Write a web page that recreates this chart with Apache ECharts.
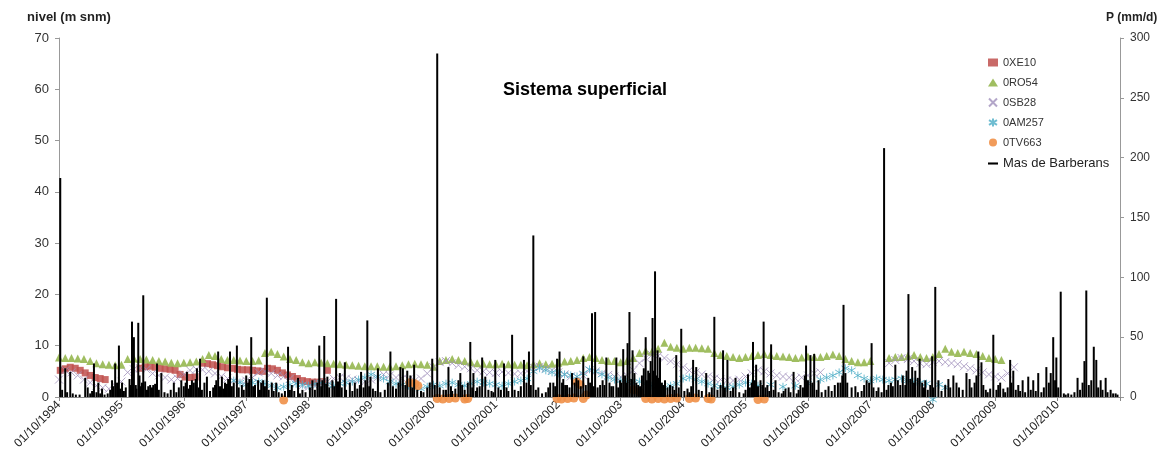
<!DOCTYPE html>
<html>
<head>
<meta charset="utf-8">
<script src="https://cdn.jsdelivr.net/npm/echarts@6/dist/echarts.min.js"></script>
<style>
  html, body { margin: 0; padding: 0; background: #fff; }
  #chart { width: 1162px; height: 461px; }
</style>
</head>
<body>
<div id="chart"></div>
<script>
// x = years since 01/10/1994
var yearLabels = ['1994', '1995', '1996', '1997', '1998', '1999', '2000', '2001', '2002',
  '2003', '2004', '2005', '2006', '2007', '2008', '2009', '2010', ''];

var xe10 = [[0.02,5.2],[0.1,5.5],[0.18,5.8],[0.26,5.6],[0.34,5.2],[0.42,4.7],[0.5,4.2],[0.58,3.8],[0.66,3.6],[0.74,3.4],
  [1.3,5.6],[1.38,5.9],[1.46,6.0],[1.54,5.8],[1.62,5.6],[1.7,5.5],[1.78,5.4],[1.86,5.2],[1.94,4.4],[2.02,3.9],[2.1,3.8],[2.18,3.9],
  [2.3,6.6],[2.38,6.5],[2.46,6.3],[2.54,6.1],[2.62,5.9],[2.7,5.7],[2.78,5.6],[2.86,5.4],[2.94,5.3],[3.02,5.3],[3.1,5.2],[3.18,5.1],
  [3.26,5.0],[3.34,5.6],[3.42,5.5],[3.5,5.2],[3.58,4.7],[3.66,4.3],[3.74,4.0],[3.82,3.6],[3.9,3.2],[3.98,3.0],[4.06,2.9],[4.14,2.9],
  [4.22,3.0],[4.3,5.2]];

var ro54 = [[0.0,7.7],[0.1,7.6],[0.2,7.6],[0.3,7.5],[0.4,7.4],[0.5,7.0],[0.6,6.6],[0.7,6.4],[0.8,6.3],[0.9,6.2],[1.0,6.3],
  [1.1,7.4],[1.2,7.5],[1.3,7.4],[1.4,7.3],[1.5,7.2],[1.6,7.0],[1.7,6.9],[1.8,6.7],[1.9,6.6],[2.0,6.7],[2.1,6.8],[2.2,6.9],
  [2.3,7.4],[2.4,8.2],[2.5,8.0],[2.6,7.4],[2.7,7.2],[2.8,7.2],[2.9,7.1],[3.0,7.0],[3.1,7.0],[3.2,7.1],[3.3,8.6],[3.4,8.8],
  [3.5,8.4],[3.6,7.9],[3.7,7.4],[3.8,7.2],[3.9,6.8],[4.0,6.6],[4.1,6.8],[4.2,6.7],[4.3,6.6],[4.4,6.5],[4.5,6.4],[4.6,6.3],
  [4.7,6.2],[4.8,6.1],[4.9,6.0],[5.0,6.0],[5.1,6.0],[5.2,5.9],[5.3,5.9],[5.4,6.0],[5.5,6.2],[5.6,6.4],[5.7,6.5],[5.8,6.4],
  [5.9,6.3],[6.0,5.9],[6.1,7.0],[6.2,7.2],[6.3,7.4],[6.4,7.2],[6.5,7.0],[6.6,6.8],[6.7,6.6],[6.8,6.5],[6.9,6.4],[7.0,6.4],
  [7.1,6.5],[7.2,6.4],[7.3,6.3],[7.4,6.3],[7.5,6.2],[7.6,6.4],[7.7,6.6],[7.8,6.4],[7.9,6.5],[8.0,6.7],[8.1,6.9],[8.2,7.0],
  [8.3,7.2],[8.4,7.6],[8.5,7.8],[8.6,7.6],[8.7,7.2],[8.8,7.0],[8.9,7.0],[9.0,6.8],[9.1,7.0],[9.2,7.6],[9.3,8.6],[9.4,9.0],
  [9.5,8.8],[9.6,9.4],[9.7,10.6],[9.8,9.8],[9.9,9.6],[10.0,9.4],[10.1,9.6],[10.2,9.6],[10.3,9.5],[10.4,9.4],[10.5,8.6],
  [10.6,8.2],[10.7,8.0],[10.8,7.8],[10.9,7.6],[11.0,7.8],[11.1,8.0],[11.2,8.2],[11.3,8.4],[11.4,8.2],[11.5,8.0],[11.6,7.9],
  [11.7,7.8],[11.8,7.6],[11.9,7.7],[12.0,7.9],[12.1,7.8],[12.2,7.8],[12.3,8.0],[12.4,8.3],[12.5,8.0],[12.6,7.4],[12.7,7.0],
  [12.8,6.8],[12.9,6.8],[13.0,7.0],[13.3,7.6],[13.4,7.8],[13.5,7.8],[13.6,8.0],[13.7,8.2],[13.8,7.8],[13.9,7.6],[14.0,7.8],
  [14.1,8.4],[14.2,9.4],[14.3,8.8],[14.4,8.6],[14.5,8.8],[14.6,8.6],[14.7,8.4],[14.8,8.0],[14.9,7.6],[15.0,7.4],[15.1,7.2]];

var sb28 = [[0.0,3.4],[0.1,5.2],[0.2,4.8],[0.3,4.2],[0.4,3.4],[0.5,2.8],[0.6,2.2],[0.7,1.8],[0.8,1.6],[0.9,2.2],[1.0,3.0],
  [1.1,4.8],[1.2,5.4],[1.3,5.6],[1.4,5.4],[1.5,4.6],[1.6,4.2],[1.7,3.8],[1.8,3.4],[1.9,3.6],[2.0,4.4],[2.1,5.2],[2.2,5.4],
  [2.3,5.3],[2.4,5.0],[2.5,4.6],[2.6,4.0],[2.7,3.6],[2.8,3.2],[2.9,3.0],[3.0,3.2],[3.1,3.8],[3.2,4.8],[3.3,5.0],[3.4,4.6],
  [3.5,4.2],[3.6,4.0],[3.7,3.6],[3.8,2.7],[3.9,2.2],[4.0,2.0],[4.1,2.2],[4.2,2.6],[4.3,3.0],[4.4,3.6],[4.5,3.8],[4.6,3.6],
  [4.7,3.4],[4.8,3.2],[4.9,3.0],[5.0,3.4],[5.1,3.8],[5.2,4.4],[5.3,4.2],[5.4,3.8],[5.5,3.6],[5.6,3.4],[5.7,3.2],[5.8,3.6],
  [5.9,4.6],[6.0,5.8],[6.1,6.8],[6.2,7.0],[6.3,6.6],[6.4,6.2],[6.5,5.9],[6.6,5.6],[6.7,5.2],[6.8,5.0],[6.9,4.8],[7.0,4.7],
  [7.1,4.9],[7.2,4.7],[7.3,4.5],[7.4,4.6],[7.5,5.0],[7.6,5.8],[7.7,5.9],[7.8,5.6],[7.9,5.2],[8.0,4.8],[8.1,4.4],[8.2,4.0],
  [8.3,3.9],[8.4,4.2],[8.5,5.2],[8.6,5.0],[8.7,4.6],[8.8,4.3],[8.9,4.0],[9.0,3.9],[9.1,4.2],[9.2,5.2],[9.3,6.6],[9.4,7.6],
  [9.5,8.2],[9.6,8.0],[9.7,7.6],[9.8,7.0],[9.9,6.4],[10.0,5.8],[10.1,5.2],[10.2,4.8],[10.3,4.4],[10.4,4.0],[10.5,3.6],
  [10.6,3.4],[10.7,3.2],[10.8,3.2],[10.9,3.4],[11.0,4.0],[11.1,4.6],[11.2,5.2],[11.3,5.0],[11.4,4.6],[11.5,4.2],[11.6,4.0],
  [11.7,3.8],[11.8,3.6],[11.9,3.8],[12.0,4.2],[12.1,4.6],[12.2,4.8],[13.3,6.6],[13.4,7.2],[13.5,7.6],[13.6,7.4],[13.7,7.0],
  [13.8,6.6],[13.9,6.4],[14.0,6.8],[14.1,7.0],[14.2,6.8],[14.3,6.6],[14.4,6.4],[14.5,6.0],[14.6,5.6],[14.7,5.2],[14.8,4.8],
  [14.9,4.4],[15.0,4.0],[15.1,3.8],[15.2,4.6],[15.3,5.8]];

var am257 = [[2.8,3.2],[2.9,2.8],[3.0,2.4],[3.1,2.8],[3.2,3.0],[3.3,2.6],[3.4,2.2],[3.5,1.8],[3.6,2.0],[3.7,2.4],[3.8,2.6],
  [3.9,2.4],[4.0,2.2],[4.1,2.6],[4.2,2.8],[4.3,2.4],[4.4,2.2],[4.5,2.6],[4.6,2.8],[4.7,3.0],[4.8,3.4],[4.9,3.8],[5.0,4.4],
  [5.1,4.0],[5.2,3.6],[5.3,3.0],[5.4,2.6],[5.5,2.4],[5.6,2.2],[5.7,1.8],[5.8,1.6],[5.9,2.0],[6.0,2.4],[6.1,2.2],[6.2,2.6],
  [6.3,2.8],[6.4,2.4],[6.5,2.2],[6.6,2.6],[6.7,3.0],[6.8,2.8],[6.9,2.6],[7.0,2.4],[7.1,2.2],[7.2,2.6],[7.3,3.0],[7.4,3.2],
  [7.5,3.6],[7.6,5.0],[7.7,5.6],[7.8,5.2],[7.9,4.8],[8.0,4.6],[8.1,4.4],[8.2,4.2],[8.3,4.0],[8.4,4.6],[8.5,5.4],[8.6,5.0],
  [8.7,4.4],[8.8,3.8],[8.9,3.4],[9.0,3.2],[9.1,3.0],[9.2,2.8],[9.3,3.0],[9.4,2.6],[9.5,2.2],[9.6,2.0],[9.7,1.8],[9.8,2.2],
  [9.9,2.6],[10.0,3.6],[10.1,3.8],[10.2,3.4],[10.3,3.0],[10.4,2.6],[10.5,2.2],[10.6,2.0],[10.7,1.8],[10.8,2.0],[10.9,2.4],
  [11.0,2.8],[11.1,2.6],[11.2,2.2],[11.4,2.4],[11.6,2.0],[11.8,2.2],[12.0,2.6],[12.2,3.4],[12.3,3.8],[12.4,4.2],[12.5,4.8],
  [12.6,5.6],[12.7,5.2],[12.8,4.2],[12.9,3.6],[13.0,3.2],[13.1,3.6],[13.2,3.4],[13.3,3.2],[13.4,3.4],[13.5,3.6],[13.6,3.2],
  [13.7,3.0],[13.8,2.8],[13.9,2.6],[14.0,-0.5],[14.1,2.4],[14.2,1.8]];

var tv663 = [[3.6,-0.6],[5.62,2.8],[5.7,2.6],[5.75,2.2],[6.06,-0.3],[6.15,-0.4],[6.25,-0.3],[6.35,-0.2],[6.5,-0.4],[6.55,-0.3],
  [7.98,-0.3],[8.05,-0.4],[8.15,-0.3],[8.25,-0.2],[8.3,2.9],[8.35,2.4],[8.4,-0.3],[8.45,0.4],[9.2,1.4],[9.3,1.0],[9.4,-0.3],
  [9.5,-0.4],[9.6,-0.3],[9.7,-0.4],[9.8,-0.3],[9.9,-0.2],[10.1,-0.3],[10.2,-0.2],[10.4,-0.3],[10.45,-0.4],[11.2,-0.5],[11.3,-0.4]];

// Mas de Barberans, daily rain (mm/d): the larger events
var rainT = [0.02,0.10,0.18,0.42,0.46,0.56,0.63,0.69,0.85,0.90,0.96,1.01,1.17,1.20,1.23,1.27,1.35,1.38,1.46,1.51,1.57,1.64,
  1.84,1.96,2.05,2.13,2.21,2.26,2.37,2.55,2.61,2.66,2.74,2.85,3.00,3.08,3.19,3.27,3.33,3.41,3.48,3.67,3.73,3.83,3.90,4.06,
  4.17,4.25,4.30,4.38,4.44,4.50,4.58,4.66,4.74,4.84,4.94,4.99,5.11,5.31,5.47,5.51,5.58,5.63,5.69,5.80,5.98,6.06,6.16,6.24,
  6.30,6.40,6.43,6.59,6.64,6.70,6.78,6.83,6.93,6.99,7.04,7.13,7.26,7.36,7.45,7.53,7.60,7.68,7.87,7.92,7.98,8.02,8.11,8.22,
  8.32,8.40,8.48,8.54,8.59,8.67,8.77,8.88,8.93,8.99,9.04,9.11,9.14,9.19,9.28,9.40,9.44,9.51,9.55,9.59,9.63,9.71,9.79,9.89,
  9.97,10.07,10.16,10.21,10.37,10.50,10.64,10.71,10.84,11.04,11.12,11.17,11.24,11.29,11.35,11.41,11.48,11.64,11.69,11.77,
  11.88,11.97,12.04,12.10,12.17,12.33,12.52,12.57,12.76,12.94,13.02,13.13,13.22,13.29,13.40,13.56,13.61,13.67,13.72,13.79,
  13.88,13.99,14.04,14.09,14.25,14.33,14.54,14.59,14.73,14.78,14.92,14.97,15.08,15.13,15.24,15.29,15.37,15.44,15.53,15.61,
  15.69,15.82,15.89,15.93,15.98,16.05,16.17,16.32,16.43,16.46,16.58,16.62,16.69,16.77,16.85,16.93];
var rainP = [183,24,21,16,8,28,12,7,14,28,43,12,63,50,10,62,85,13,10,10,28,20,
  12,14,21,14,24,32,17,38,17,12,38,43,18,50,14,14,83,12,12,42,10,16,6,14,
  43,51,17,14,82,20,29,12,12,21,64,17,24,38,25,24,22,18,27,5,32,287,6,25,
  5,14,20,46,20,8,33,17,5,31,8,28,52,5,31,38,135,8,12,12,32,38,10,20,
  14,34,16,70,71,10,33,9,33,14,40,45,71,39,10,50,22,66,105,39,33,14,10,35,
  57,7,31,25,20,67,39,31,16,19,46,27,14,63,10,44,14,7,8,21,
  10,43,35,36,14,9,12,77,9,14,45,8,208,10,27,10,86,25,22,32,
  14,34,92,14,15,18,20,15,38,29,7,52,12,7,31,22,10,14,17,14,
  20,25,20,50,33,88,3,16,30,89,42,31,14,16,6,3];

// the small events crowding the base of the plot
var smallT = [0.05,0.13,0.22,0.27,0.33,0.50,0.53,0.60,0.66,0.73,0.78,0.82,0.87,0.93,0.98,1.04,1.07,1.13,1.15,1.24,1.29,1.31,
  1.33,1.41,1.43,1.49,1.54,1.60,1.69,1.74,1.79,1.88,1.92,2.00,2.03,2.08,2.10,2.16,2.19,2.24,2.29,2.33,2.42,2.47,2.50,2.52,
  2.58,2.63,2.69,2.71,2.77,2.80,2.88,2.93,2.96,3.03,3.05,3.11,3.14,3.22,3.24,3.30,3.36,3.44,3.52,3.57,3.62,3.70,3.77,3.86,
  3.95,4.02,4.10,4.14,4.20,4.22,4.28,4.33,4.41,4.47,4.53,4.60,4.70,4.78,4.82,4.88,4.91,4.97,5.03,5.07,5.15,5.22,5.27,5.35,
  5.40,5.44,5.55,5.66,5.74,5.84,5.90,5.94,6.02,6.10,6.20,6.28,6.35,6.46,6.50,6.55,6.62,6.68,6.74,6.88,6.96,7.08,7.17,7.20,
  7.30,7.40,7.49,7.56,7.64,7.74,7.80,7.84,7.95,8.06,8.08,8.14,8.18,8.26,8.29,8.36,8.44,8.51,8.57,8.63,8.71,8.74,8.82,8.85,
  8.96,9.01,9.07,9.09,9.17,9.22,9.25,9.31,9.34,9.37,9.42,9.46,9.48,9.53,9.57,9.61,9.66,9.68,9.75,9.83,9.86,9.93,10.02,10.10,
  10.13,10.25,10.30,10.42,10.46,10.55,10.60,10.67,10.76,10.80,10.90,10.97,11.00,11.07,11.10,11.15,11.20,11.27,11.32,11.38,
  11.45,11.53,11.58,11.61,11.72,11.82,11.85,11.92,11.95,12.00,12.07,12.14,12.22,12.28,12.38,12.43,12.48,12.55,12.60,12.63,
  12.70,12.80,12.86,12.90,12.98,13.05,13.10,13.18,13.26,13.33,13.36,13.44,13.48,13.52,13.58,13.64,13.70,13.76,13.83,13.86,
  13.92,13.96,14.01,14.14,14.20,14.28,14.38,14.42,14.48,14.62,14.67,14.70,14.81,14.85,14.88,15.02,15.05,15.16,15.20,15.26,
  15.33,15.40,15.48,15.57,15.65,15.74,15.78,15.86,15.96,16.01,16.10,16.13,16.22,16.27,16.36,16.40,16.50,16.54,16.65,16.72,
  16.80,16.89,16.96];
var smallP = [6,4,3,2,2,3,5,4,3,2,3,6,9,12,7,5,8,15,10,7,18,9,
  12,6,9,8,11,6,4,3,6,4,8,9,12,7,10,12,15,8,6,12,5,8,10,14,
  9,7,11,15,9,12,8,10,6,12,15,9,10,6,12,9,6,5,4,3,5,6,5,3,
  4,8,6,12,9,14,11,8,9,13,8,6,5,7,10,8,14,9,7,5,4,6,12,9,
  7,12,10,8,6,4,8,12,10,8,6,9,7,10,6,12,8,5,9,6,4,6,8,5,
  6,9,12,10,6,3,4,8,9,12,15,10,8,12,16,9,10,12,9,8,14,10,12,9,
  8,12,18,12,15,20,12,9,18,24,14,20,30,22,18,16,12,10,8,9,6,8,5,4,
  9,6,5,4,8,6,10,8,5,8,4,3,6,8,12,14,9,10,8,5,
  6,4,3,5,4,3,6,8,18,14,12,6,4,6,5,10,12,18,20,12,
  8,4,5,10,12,8,5,4,6,12,9,14,10,18,22,15,12,16,12,8,
  6,10,8,5,10,8,12,8,6,8,12,18,10,6,4,6,10,4,8,12,
  6,5,4,6,5,4,8,12,14,8,3,2,2,4,6,12,10,14,8,6,
  4,3,2];

var rain = rainT.map(function (t, i) { return [t, rainP[i]]; })
  .concat(smallT.map(function (t, i) { return [t, smallP[i]]; }));

var myChart = echarts.init(document.getElementById('chart'));

var font = 'Liberation Sans, Arial, sans-serif';

var option = {
  animation: false,
  textStyle: { fontFamily: font },
  title: {
    text: 'Sistema superficial',
    left: 498,
    top: 76,
    textStyle: { fontSize: 18, fontWeight: 'bold', color: '#000', fontFamily: font }
  },
  legend: {
    orient: 'vertical',
    left: 983,
    top: 52,
    itemGap: 9,
    itemWidth: 10,
    itemHeight: 8,
    textStyle: { fontSize: 11, color: '#333', fontFamily: font },
    data: [
      { name: '0XE10', icon: 'rect' },
      { name: '0RO54', icon: 'triangle' },
      { name: '0SB28' },
      { name: '0AM257' },
      { name: '0TV663', icon: 'circle' },
      { name: 'Mas de Barberans', icon: 'path://M0,4h12v2.5h-12z', textStyle: { fontSize: 13, color: '#222' } }
    ]
  },
  grid: { left: 59, right: 42, top: 38, bottom: 64, containLabel: false, outerBoundsMode: 'none' },
  xAxis: {
    type: 'value',
    min: 0,
    max: 17,
    interval: 1,
    axisLine: { lineStyle: { color: '#888' } },
    axisTick: { length: 4, lineStyle: { color: '#888' } },
    splitLine: { show: false },
    axisLabel: {
      rotate: 45,
      fontSize: 12,
      color: '#222',
      margin: 6,
      formatter: function (v) { return yearLabels[v] ? '01/10/' + yearLabels[v] : ''; }
    }
  },
  yAxis: [
    {
      type: 'value',
      min: 0,
      max: 70,
      interval: 10,
      name: 'nivel (m snm)',
      nameGap: 14,
      nameTextStyle: { fontWeight: 'bold', fontSize: 13, color: '#222', padding: [0, 0, 0, 20] },
      axisLine: { show: true, lineStyle: { color: '#999' } },
      axisTick: { show: true, length: 4, lineStyle: { color: '#999' } },
      splitLine: { show: false },
      axisLabel: { fontSize: 13, color: '#333', margin: 10 }
    },
    {
      type: 'value',
      min: 0,
      max: 300,
      interval: 50,
      name: 'P (mm/d)',
      nameGap: 14,
      nameTextStyle: { fontWeight: 'bold', fontSize: 12, color: '#222', align: 'left', padding: [0, 0, 0, -14] },
      position: 'right',
      axisLine: { show: true, lineStyle: { color: '#999' } },
      axisTick: { show: true, length: 4, lineStyle: { color: '#999' } },
      splitLine: { show: false },
      axisLabel: { fontSize: 12, color: '#333', margin: 10 }
    }
  ],
  series: [
    {
      name: '0XE10', type: 'scatter', data: xe10, symbol: 'rect', symbolSize: 7, clip: false,
      itemStyle: { color: '#c0504d', opacity: 0.85 }
    },
    {
      name: '0RO54', type: 'scatter', data: ro54, symbol: 'triangle', symbolSize: 8, clip: false,
      itemStyle: { color: '#9bbb59', opacity: 0.95 }
    },
    {
      name: '0SB28', type: 'scatter', data: sb28, clip: false,
      symbol: 'path://M0,0L10,10M10,0L0,10', symbolSize: 8,
      itemStyle: { color: 'rgba(0,0,0,0)', borderColor: '#a090bc', borderWidth: 1 }
    },
    {
      name: '0AM257', type: 'scatter', data: am257, clip: false,
      symbol: 'path://M5,0L5,10M0,2L10,8M0,8L10,2', symbolSize: 8,
      itemStyle: { color: 'rgba(0,0,0,0)', borderColor: '#4bacc6', borderWidth: 1 }
    },
    {
      name: '0TV663', type: 'scatter', data: tv663, symbol: 'circle', symbolSize: 9, clip: false,
      itemStyle: { color: '#f09048', opacity: 0.9 }
    },
    {
      name: 'Mas de Barberans', type: 'bar', yAxisIndex: 1, data: rain,
      barWidth: 2, z: 5,
      itemStyle: { color: '#000' }
    }
  ]
};

myChart.setOption(option);
</script>
</body>
</html>
